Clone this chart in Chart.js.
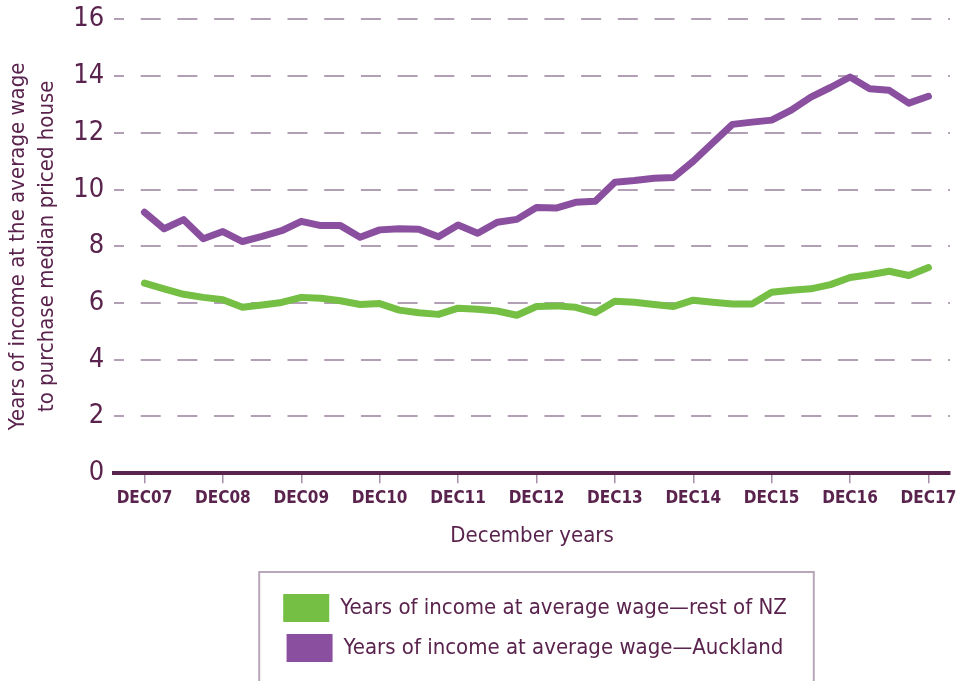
<!DOCTYPE html>
<html>
<head>
<meta charset="utf-8">
<title>Years of income to purchase a median priced house</title>
<script src="https://cdn.jsdelivr.net/npm/chart.js@4.4.1/dist/chart.umd.min.js"></script>
<style>
  html, body { margin: 0; padding: 0; background: #fff; }
  #wrap { width: 957px; height: 681px; overflow: hidden; }
</style>
</head>
<body>
<div id="wrap"><canvas id="houseChart" width="957" height="681"></canvas></div>
<script>
// tick labels, one every 4 quarters
const tickLabels = ["DEC07", "DEC08", "DEC09", "DEC10", "DEC11", "DEC12", "DEC13", "DEC14", "DEC15", "DEC16", "DEC17"];

// quarterly values, Dec 2007 .. Dec 2017 (41 quarters)
const restOfNZ = [
  6.70, 6.50, 6.31, 6.20, 6.12, 5.85, 5.93, 6.02, 6.20, 6.17,
  6.08, 5.95, 5.98, 5.75, 5.66, 5.60, 5.82, 5.78, 5.72, 5.57,
  5.88, 5.90, 5.85, 5.66, 6.06, 6.03, 5.95, 5.88, 6.10, 6.03,
  5.97, 5.97, 6.38, 6.45, 6.50, 6.65, 6.90, 7.00, 7.12, 6.97,
  7.25
];
const auckland = [
  9.20, 8.62, 8.94, 8.27, 8.52, 8.17, 8.35, 8.55, 8.88, 8.73,
  8.73, 8.32, 8.58, 8.62, 8.60, 8.34, 8.75, 8.46, 8.85, 8.95,
  9.37, 9.35, 9.55, 9.59, 10.26, 10.32, 10.40, 10.43, 11.00, 11.65,
  12.30, 12.38, 12.45, 12.80, 13.26, 13.60, 13.97, 13.56, 13.50, 13.05,
  13.29
];
const seriesNames = ["Years of income at average wage\u2014rest of NZ", "Years of income at average wage\u2014Auckland"];

const textColor = "#5a234d";
const gridColor = "#b39fb5";
const fontFamily = "'Liberation Sans Narrow', 'DejaVu Sans Condensed', 'Roboto', sans-serif";

const toPoints = (arr) => arr.map((v, i) => ({ x: i, y: v }));

// legend sits right of centre in the original; shift it and draw its frame
const legendShift = 58;
const legendFrame = {
  id: "legendFrame",
  afterLayout(chart) {
    const lg = chart.legend;
    if (!lg) return;
    lg.left += legendShift;
    lg.right += legendShift;
    (lg.legendHitBoxes || []).forEach((b) => { b.left += legendShift; });
  },
  afterDraw(chart) {
    const boxes = chart.legend && chart.legend.legendHitBoxes;
    if (!boxes || !boxes.length) return;
    let left = Infinity, right = -Infinity, top = Infinity;
    boxes.forEach((b) => {
      left = Math.min(left, b.left);
      right = Math.max(right, b.left + b.width);
      top = Math.min(top, b.top);
    });
    const ctx = chart.ctx;
    ctx.save();
    ctx.strokeStyle = "#b8a6b9";
    ctx.lineWidth = 2;
    ctx.strokeRect(left - 24, top - 22, (right - left) + 51, chart.height);
    ctx.restore();
  }
};

const ctx = document.getElementById("houseChart").getContext("2d");
new Chart(ctx, {
  type: "line",
  data: {
    datasets: [
      {
        label: seriesNames[0],
        data: toPoints(restOfNZ),
        borderColor: "#74bf44",
        backgroundColor: "#74bf44",
        borderWidth: 7,
        pointRadius: 0,
        tension: 0,
        borderJoinStyle: "round",
        borderCapStyle: "round"
      },
      {
        label: seriesNames[1],
        data: toPoints(auckland),
        borderColor: "#8a509f",
        backgroundColor: "#8a509f",
        borderWidth: 7,
        pointRadius: 0,
        tension: 0,
        borderJoinStyle: "round",
        borderCapStyle: "round"
      }
    ]
  },
  options: {
    responsive: false,
    animation: false,
    layout: { padding: { left: 4, right: 7, top: 3, bottom: 9 } },
    plugins: {
      tooltip: { enabled: false },
      legend: {
        position: "bottom",
        labels: {
          color: textColor,
          font: { family: fontFamily, size: 22 },
          boxWidth: 46,
          boxHeight: 28,
          padding: 12,
          generateLabels(chart) {
            return chart.data.datasets.map((ds, i) => ({
              text: ds.label,
              fillStyle: ds.borderColor,
              strokeStyle: ds.borderColor,
              lineWidth: 0,
              fontColor: textColor,
              datasetIndex: i
            }));
          }
        }
      }
    },
    scales: {
      x: {
        type: "linear",
        min: -1.55,
        max: 41.1,
        // the last label may run close to the edge, as in the original
        afterFit: (scale) => { scale.paddingRight = 0; },
        border: { display: true, color: textColor, width: 4 },
        grid: {
          drawOnChartArea: false,
          drawTicks: true,
          tickLength: 10,
          color: "#a48fa6",
          lineWidth: 1.5
        },
        ticks: {
          stepSize: 4,
          includeBounds: false,
          autoSkip: false,
          maxRotation: 0,
          padding: 5,
          color: textColor,
          font: { family: fontFamily, size: 17, weight: "bold" },
          callback: (value) => tickLabels[value / 4]
        },
        title: {
          display: true,
          text: "December years",
          color: textColor,
          font: { family: fontFamily, size: 22 },
          padding: { top: 9, bottom: 33 }
        }
      },
      y: {
        min: 0,
        max: 16,
        border: { display: false, dash: [20, 16.7], dashOffset: 10 },
        grid: {
          drawTicks: false,
          color: gridColor,
          lineWidth: 2
        },
        ticks: {
          stepSize: 2,
          padding: 10,
          color: textColor,
          font: { family: fontFamily, size: 27, lineHeight: 0.7 }
        },
        title: {
          display: true,
          text: ["Years of income at the average wage", "to purchase median priced house"],
          color: textColor,
          font: { family: fontFamily, size: 22, lineHeight: 1.3 },
          padding: { top: 0, bottom: 2 }
        }
      }
    }
  },
  plugins: [legendFrame]
});
</script>
</body>
</html>
